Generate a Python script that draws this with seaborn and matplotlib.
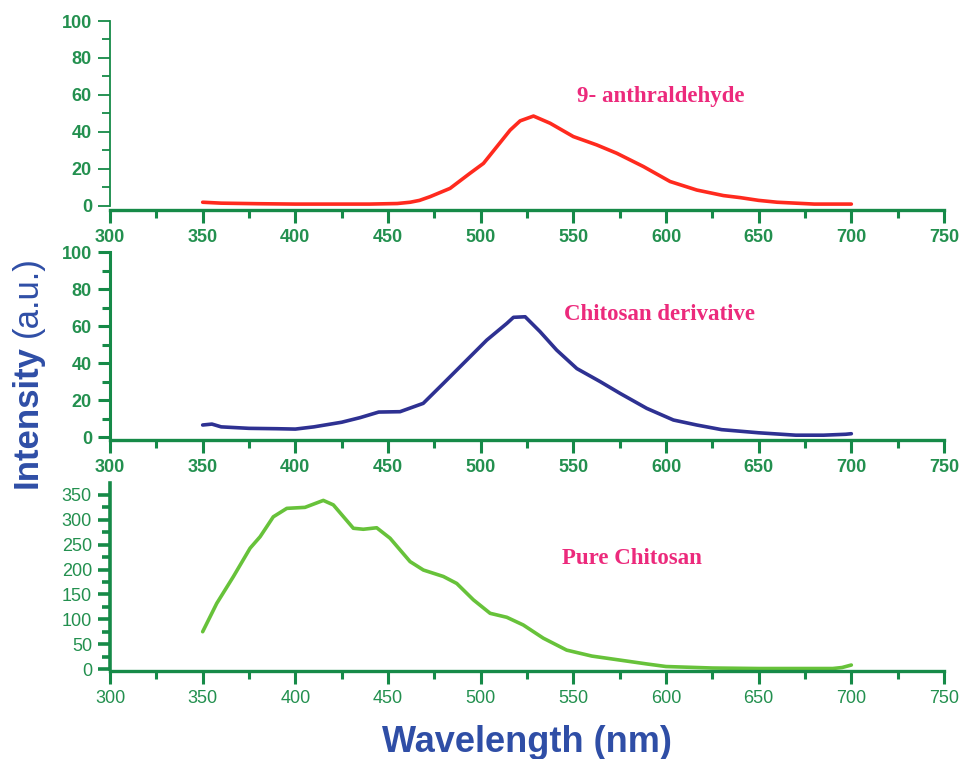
import numpy as np
import pandas as pd
import matplotlib
matplotlib.use("Agg")
import matplotlib.pyplot as plt
import seaborn as sns
from matplotlib.ticker import MultipleLocator

# ---- data ----
wl_anth = [350, 360, 380, 400, 420, 440, 455, 462, 467, 472.7, 483.5, 494.3, 501.5, 508.7, 515.9,
           521.3, 528.5, 537.5, 550, 562.6, 573.4, 587.8, 602.2, 616.6, 631, 640, 650, 660, 670,
           680, 700]
int_anth = [2, 1.5, 1.2, 1, 1, 1, 1.3, 2, 3, 5, 9.5, 17.7, 23, 32, 41,
            46, 48.6, 44.7, 37.5, 33, 28.5, 21.3, 13.2, 8.6, 5.6, 4.5, 3, 2, 1.5,
            1, 1]

wl_deriv = [350, 355, 360, 375, 390, 400, 410, 425, 435, 445, 456.5, 469, 479.9, 492.5, 503.3,
            514.1, 517.7, 524, 532, 541, 551.9, 564.4, 575.2, 589.6, 604, 616.6, 630, 650, 670,
            685, 697, 700]
int_deriv = [6.5, 7, 5.5, 4.7, 4.5, 4.3, 5.5, 8, 10.5, 13.5, 13.7, 18.2, 29, 41.6, 52.4,
             61.4, 64.7, 65, 57, 47, 37, 30, 23.6, 15.5, 9.2, 6.5, 4, 2.3, 1,
             1, 1.5, 1.8]

wl_pure = [350, 357.6, 366.6, 375.6, 381, 388.1, 395.4, 405.2, 415.1, 420.5, 431.3, 436.7, 443.9,
           451.1, 461.9, 469.1, 479.9, 487.1, 496.1, 505.1, 514.1, 523, 533.8, 546.4, 560, 575,
           590, 600, 625, 650, 690, 695, 700]
int_pure = [75, 132, 186, 243, 266, 306, 323, 325, 339, 330, 283, 281, 284,
            263, 216, 199, 186, 172, 139, 112, 104, 88.5, 62, 38, 26, 18,
            10, 5, 2, 1, 1, 3, 8]

labels = ["9- anthraldehyde", "Chitosan derivative", "Pure Chitosan"]
x_ticks = [300, 350, 400, 450, 500, 550, 600, 650, 700, 750]

sns.set_theme(style="white")
plt.rcParams["font.family"] = ["Liberation Sans", "DejaVu Sans"]

fig = plt.figure(figsize=(9.59, 7.59), dpi=100)

W, H = 959, 759
def ax_rect(top_px, bot_px):
    return [110 / W, (H - bot_px) / H, 834 / W, (bot_px - top_px) / H]

spine_c = "#168a48"
tick_c = "#23904f"
ann_c = "#ec2a7c"

series = [
    (wl_anth, int_anth, "#ff2a1e", (21, 210), (-2.2, 100), 20, 10, "bold", 1.3, 59, 552),
    (wl_deriv, int_deriv, "#2e3192", (252, 440), (-1.6, 100), 20, 10, "bold", 2.2, 66, 545),
    (wl_pure, int_pure, "#67c23a", (483, 671), (-4, 374), 50, 25, "normal", 2.6, 223, 544),
]

for i, (wl, val, col, (tp, bp), ylim, ymaj, ymin, fw, ylw, ay, ax_x) in enumerate(series):
    ax = fig.add_axes(ax_rect(tp, bp))
    df = pd.DataFrame({"Wavelength": wl, "Intensity": val})
    sns.lineplot(data=df, x="Wavelength", y="Intensity", ax=ax, color=col, lw=2.6)
    ax.set_xlim(300, 750)
    ax.set_ylim(*ylim)
    ax.set_xticks(x_ticks)
    ax.xaxis.set_minor_locator(MultipleLocator(25))
    ax.yaxis.set_major_locator(MultipleLocator(ymaj))
    ax.yaxis.set_minor_locator(MultipleLocator(ymin))
    ax.set_yticks([t for t in ax.get_yticks() if 0 <= t <= ylim[1]])
    ax.set_ylim(*ylim)
    for s in ["top", "right"]:
        ax.spines[s].set_visible(False)
    ax.spines["bottom"].set_color(spine_c)
    ax.spines["bottom"].set_linewidth(2.4)
    ax.spines["left"].set_color(spine_c)
    ax.spines["left"].set_linewidth(ylw)
    ax.spines["left"].set_bounds(0, ylim[1])
    ax.tick_params(axis="x", which="major", direction="out", length=9, width=2.2,
                   color=spine_c, labelcolor=tick_c, labelsize=13, pad=5, bottom=True)
    ax.tick_params(axis="x", which="minor", direction="out", length=6, width=2.2,
                   color=spine_c, bottom=True)
    ax.tick_params(axis="y", which="major", direction="out", length=9, width=ylw,
                   color=spine_c, labelcolor=tick_c, labelsize=13, pad=4, left=True)
    ax.tick_params(axis="y", which="minor", direction="out", length=6, width=ylw,
                   color=spine_c, left=True)
    for lab in ax.get_xticklabels() + ax.get_yticklabels():
        lab.set_fontweight(fw)
    ax.set_xlabel("")
    ax.set_ylabel("")
    ax.patch.set_alpha(0)
    ax.text(ax_x, ay, labels[i], color=ann_c, fontsize=16.5, fontweight="bold",
            family=["Liberation Serif", "DejaVu Serif"], ha="left", va="center")

lab_c = "#2f4ea6"
fig.text(27 / W, (H - 416) / H, "Intensity", rotation=90, ha="center", va="center",
         fontsize=25, fontweight="bold", color=lab_c)
fig.text(27 / W, (H - 297) / H, "(a.u.)", rotation=90, ha="center", va="center",
         fontsize=25, fontweight="normal", color=lab_c)
fig.text(527 / W, 7 / H, "Wavelength (nm)", ha="center", va="baseline",
         fontsize=26, fontweight="bold", color=lab_c)

fig.savefig("out.png", dpi=100)
